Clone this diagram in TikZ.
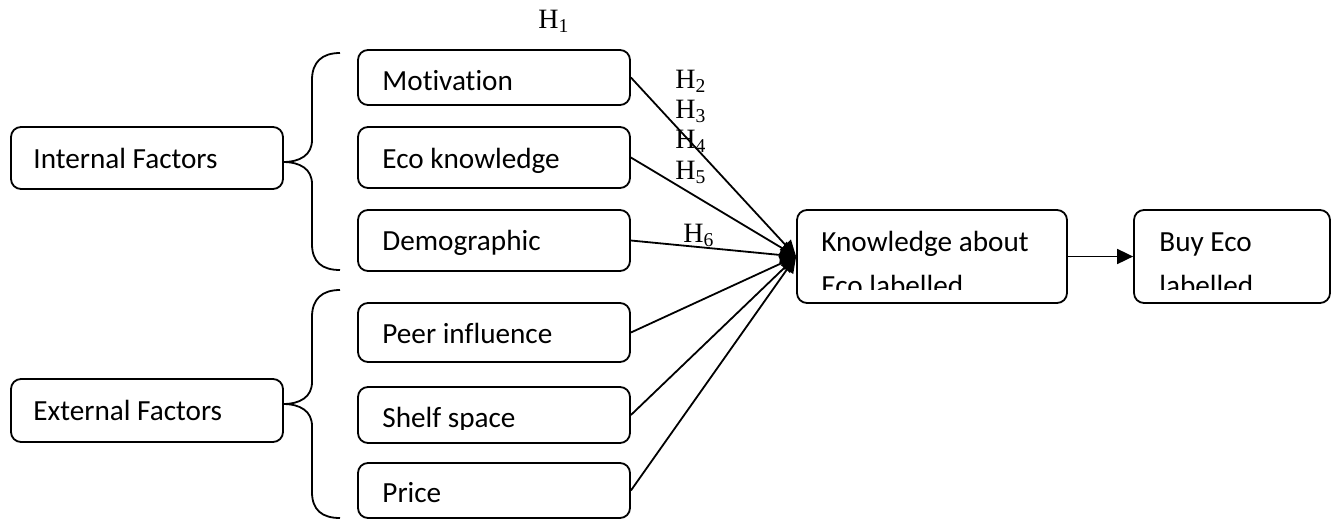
\documentclass[tikz,border=0pt]{standalone}
\usepackage{fontspec}
\setmainfont{Carlito}[Ligatures={NoCommon}]
\newfontfamily\hfont{Liberation Serif}
\usetikzlibrary{fit,arrows.meta}

\begin{document}
\begin{tikzpicture}[
        x=0.5pt, y=-0.5pt,
        font=\fontsize{14.6}{22}\selectfont,
        box/.style={
            draw=black, line width=0.9pt, rounded corners=5pt,
            inner sep=0pt, fit={#1}
        },
        txt/.style={anchor=base west, inner sep=0pt},
        hlab/.style={anchor=base west, inner sep=0pt, font=\hfont\fontsize{14}{16}\selectfont},
        arrow/.style={-{Triangle[length=8pt, width=7.5pt]}, line width=0.9pt},
        brace/.style={line width=0.9pt}
    ]
        \useasboundingbox (0,0) rectangle (1331,520);

        % Factores
        \node[box={(11,127) (283,189)}] (internal) {};
        \node[txt] (internal-t) at (33,168) {Internal Factors};
        \node[box={(11,379) (283,442)}] (external) {};
        \node[txt] (external-t) at (33,420) {External Factors};

        % Llaves
        \draw[brace] (340,53) .. controls (322,53) and (312,62) .. (312,80)
            -- (312,140) .. controls (312,155) and (300,162) .. (283,162)
            .. controls (300,162) and (312,169) .. (312,184)
            -- (312,244) .. controls (312,262) and (322,270) .. (340,270);
        \draw[brace] (340,290) .. controls (322,290) and (312,299) .. (312,317)
            -- (312,382) .. controls (312,397) and (300,404) .. (283,404)
            .. controls (300,404) and (312,411) .. (312,426)
            -- (312,492) .. controls (312,510) and (322,518) .. (340,518);

        % Variables
        \node[box={(358,50) (630,105)}] (motiv) {};
        \node[txt] (motiv-t) at (382,90) {Motivation};
        \node[box={(358,127) (630,188)}] (ecok) {};
        \node[txt] (ecok-t) at (382,168) {Eco knowledge};
        \node[box={(358,210) (630,271)}] (demo) {};
        \node[txt] (demo-t) at (382,250) {Demographic};
        \node[box={(358,303) (630,362)}] (peer) {};
        \node[txt] (peer-t) at (382,343) {Peer influence};
        \node[box={(358,387) (630,443)}] (shelf) {};
        \begin{scope}
            \clip (358,387) rectangle (630,429);
            \node[txt] (shelf-t) at (382,427) {Shelf space};
        \end{scope}
        \node[box={(358,463) (630,518)}] (price) {};
        \node[txt] (price-t) at (382,502) {Price};

        % Resultado
        \node[box={(797,210) (1067,303)}] (know) {};
        \begin{scope}
            \clip (797,210) rectangle (1067,289);
            \node[txt] (know-t) at (821,251) {\vtop{\hbox{Knowledge about}\hbox{Eco labelled}}};
        \end{scope}
        \node[box={(1134,210) (1330,303)}] (buy) {};
        \begin{scope}
            \clip (1134,210) rectangle (1330,289);
            \node[txt] (buy-t) at (1159,251) {\vtop{\hbox{Buy Eco}\hbox{labelled}}};
        \end{scope}

        % Flechas
        \foreach \src in {motiv, ecok, demo, peer, shelf, price}
            \draw[arrow] (\src.east) -- (know.west);
        \draw[arrow] (know) -- (buy);

        % Hipotesis
        \node[hlab] (h1) at (538,28) {H\textsubscript{1}};
        \node[hlab] (h2) at (675,88) {H\textsubscript{2}};
        \node[hlab] (h3) at (675,118) {H\textsubscript{3}};
        \node[hlab] (h4) at (675,148) {H\textsubscript{4}};
        \node[hlab] (h5) at (675,179) {H\textsubscript{5}};
        \node[hlab] (h6) at (683,242) {H\textsubscript{6}};

    \end{tikzpicture}
\end{document}
